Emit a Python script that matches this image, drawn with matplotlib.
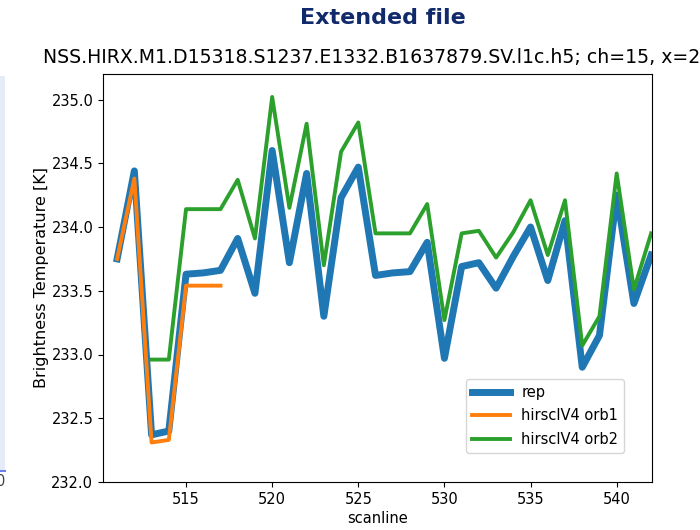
import matplotlib
matplotlib.use("Agg")
import matplotlib.pyplot as plt
from matplotlib.patches import Rectangle
from matplotlib.lines import Line2D

# data
scan_rep = list(range(511, 543))
rep = [233.75, 234.44, 232.37, 232.40, 233.63, 233.64, 233.66, 233.91, 233.48, 234.60,
       233.72, 234.42, 233.30, 234.23, 234.47, 233.62, 233.64, 233.65, 233.88, 232.97,
       233.69, 233.72, 233.52, 233.77, 234.00, 233.58, 234.05, 232.90, 233.15, 234.25,
       233.40, 233.78]
scan_orb1 = list(range(511, 518))
orb1 = [233.75, 234.38, 232.31, 232.33, 233.54, 233.54, 233.54]
scan_orb2 = list(range(513, 543))
orb2 = [232.96, 232.96, 234.14, 234.14, 234.14, 234.37, 233.91, 235.02, 234.15, 234.81,
        233.70, 234.59, 234.82, 233.95, 233.95, 233.95, 234.18, 233.27, 233.95, 233.97,
        233.76, 233.96, 234.21, 233.78, 234.21, 233.07, 233.30, 234.42, 233.51, 233.95]
labels = ["rep", "hirsclV4 orb1", "hirsclV4 orb2"]
yticks = [232.0, 232.5, 233.0, 233.5, 234.0, 234.5, 235.0]
xticks = [515, 520, 525, 530, 535, 540]

W, H = 700, 530
fig = plt.figure(figsize=(W / 100, H / 100), dpi=100)

# neighbouring (cut-off) panel at the far left
fig.patches.append(Rectangle((0, 1 - 470 / H), 4.5 / W, (470 - 76) / H,
                             transform=fig.transFigure, facecolor="#e6ecf7",
                             edgecolor="none", zorder=0))
fig.lines.append(Line2D([0, 4.5 / W], [1 - 471 / H, 1 - 471 / H], transform=fig.transFigure,
                        color="#6f7ff0", lw=1.5))
fig.text(5.5 / W, 1 - 481 / H, "0", ha="right", va="center", fontsize=10.5, color="#444444")

# page heading
fig.text(383 / W, 1 - 18 / H, "Extended file", ha="center", va="center",
         fontsize=16, fontweight="bold", family=["DejaVu Sans"], color="#112a6b")

ax = fig.add_axes([103 / W, 1 - 482 / H, (652 - 103) / W, (482 - 74) / H])
ax.plot(scan_rep, rep, color="#1f77b4", lw=5, label=labels[0])
ax.plot(scan_orb1, orb1, color="#ff7f0e", lw=2.8, label=labels[1])
ax.plot(scan_orb2, orb2, color="#2ca02c", lw=2.8, label=labels[2])

ax.set_xlim(510.18, 542.05)
ax.set_ylim(232.0, 235.2)
ax.set_xticks(xticks)
ax.set_yticks(yticks)
ax.set_yticklabels([f"{v:.1f}" for v in yticks])
ax.tick_params(labelsize=10.5)
ax.set_xlabel("scanline", fontsize=10.5, labelpad=3)
ax.set_ylabel("Brightness Temperature [K]", fontsize=11.5, labelpad=1.5)
ax.set_title("NSS.HIRX.M1.D15318.S1237.E1332.B1637879.SV.l1c.h5; ch=15, x=28",
             fontsize=13.6, pad=8)
ax.legend(loc="lower right", bbox_to_anchor=(0.949, 0.071), borderaxespad=0,
          fontsize=10.5, handlelength=2.6, labelspacing=0.6)

fig.savefig("out.png", dpi=100)
